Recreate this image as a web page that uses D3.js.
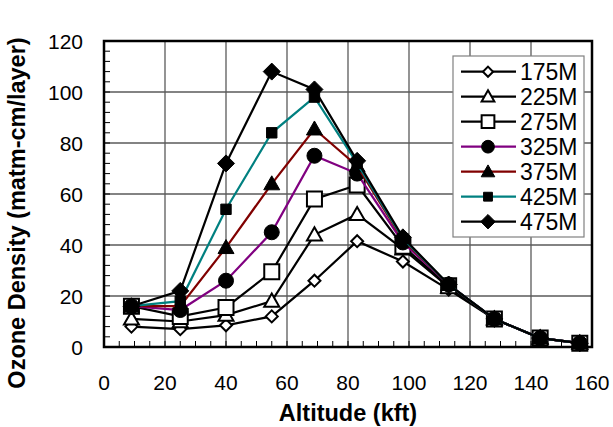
<!DOCTYPE html>
<html>
<head>
<meta charset="utf-8">
<script src="https://cdn.jsdelivr.net/npm/d3@7"></script>
<style>
  body { margin: 0; background: #fff; }
  text { font-family: "Liberation Sans", Arial, sans-serif; }
</style>
</head>
<body>
<div id="chart"></div>
<script>
// altitude (kft) of each layer
const altitude = [9, 25, 40, 55, 69, 83, 98, 113, 128, 143, 156];

const names = ["175M", "225M", "275M", "325M", "375M", "425M", "475M"];

const s175 = [8, 7, 8.5, 12, 26, 41.5, 33.5, 22.5, 11, 3.5, 1.5];
const s225 = [11, 10, 12.5, 18, 44, 52, 38.5, 23.5, 11, 3.5, 1.5];
const s275 = [16, 12, 15.5, 29.5, 58, 63.5, 39.5, 24, 11, 3.5, 1.5];
const s325 = [16, 14.5, 26, 45, 75, 68, 41, 24.5, 11, 3.5, 1.5];
const s375 = [16, 16, 39, 64, 85.5, 71, 42, 24.5, 11, 3.5, 1.5];
const s425 = [16, 18, 54, 84, 98, 72, 42.5, 24.5, 11, 3.5, 1.5];
const s475 = [16, 22, 72, 108, 101, 73, 43, 24.5, 11, 3.5, 1.5];

const xTicks = [0, 20, 40, 60, 80, 100, 120, 140, 160];
const yTicks = [0, 20, 40, 60, 80, 100, 120];

const seriesValues = [s175, s225, s275, s325, s375, s425, s475];
const colors = ["#000", "#000", "#000", "#800080", "#800000", "#008080", "#000"];
const shapes = ["diamond", "triangle", "square", "circle", "triangle", "square", "diamond"];
const filled = [false, false, false, true, true, true, true];
const sizes = [6, 7.5, 7.5, 7.5, 8, 5.2, 8.5];

const series = names.map((n, i) => ({
  name: n, color: colors[i], shape: shapes[i], filled: filled[i], r: sizes[i],
  points: altitude.map((a, j) => [a, seriesValues[i][j]])
}));

const W = 613, H = 427;
const margin = { top: 41, right: 21, bottom: 80, left: 104 };
const width = W - margin.left - margin.right;
const height = H - margin.top - margin.bottom;

const svg = d3.select("#chart").append("svg")
  .attr("width", W).attr("height", H);

svg.append("rect").attr("width", W).attr("height", H).attr("fill", "#fff");

const g = svg.append("g").attr("transform", `translate(${margin.left},${margin.top})`);

const x = d3.scaleLinear().domain([0, 160]).range([0, width]);
const y = d3.scaleLinear().domain([0, 120]).range([height, 0]);

// grid
g.selectAll(".vgrid").data(xTicks).join("line")
  .attr("x1", d => x(d)).attr("x2", d => x(d))
  .attr("y1", 0).attr("y2", height)
  .attr("stroke", "#5a5a5a").attr("stroke-width", 1.3);
g.selectAll(".hgrid").data(yTicks).join("line")
  .attr("x1", 0).attr("x2", width)
  .attr("y1", d => y(d)).attr("y2", d => y(d))
  .attr("stroke", "#5a5a5a").attr("stroke-width", 1.3);

// minor ticks inside
g.selectAll(".xminor").data(d3.range(0, 161, 5)).join("line")
  .attr("x1", d => x(d)).attr("x2", d => x(d))
  .attr("y1", height).attr("y2", height - 6)
  .attr("stroke", "#000").attr("stroke-width", 1);
g.selectAll(".yminor").data(d3.range(0, 121, 4)).join("line")
  .attr("x1", 0).attr("x2", 6)
  .attr("y1", d => y(d)).attr("y2", d => y(d))
  .attr("stroke", "#000").attr("stroke-width", 1);

// tick labels
g.selectAll(".xlab").data(xTicks).join("text")
  .attr("x", d => x(d)).attr("y", height + 43)
  .attr("text-anchor", "middle").style("font-size", "21px")
  .text(d => d);
g.selectAll(".ylab").data(yTicks).join("text")
  .attr("x", -21).attr("y", d => y(d) + 7.5)
  .attr("text-anchor", "end").style("font-size", "21px")
  .text(d => d);

function markerPath(shape, r) {
  const p = d3.path();
  if (shape === "diamond") {
    p.moveTo(0, -r); p.lineTo(r, 0); p.lineTo(0, r); p.lineTo(-r, 0); p.closePath();
  } else if (shape === "square") {
    p.rect(-r, -r, 2 * r, 2 * r);
  } else if (shape === "triangle") {
    p.moveTo(0, -r); p.lineTo(r, r * 0.75); p.lineTo(-r, r * 0.75); p.closePath();
  } else {
    p.arc(0, 0, r, 0, 2 * Math.PI);
  }
  return p.toString();
}

const line = d3.line().x(d => x(d[0])).y(d => y(d[1]));

const sg = g.selectAll(".series").data(series).join("g");
sg.append("path")
  .attr("d", d => line(d.points))
  .attr("fill", "none")
  .attr("stroke", d => d.color)
  .attr("stroke-width", 2.2);
sg.each(function (s) {
  d3.select(this).selectAll("path.m").data(s.points).join("path")
    .attr("class", "m")
    .attr("transform", d => `translate(${x(d[0])},${y(d[1])})`)
    .attr("d", markerPath(s.shape, s.r))
    .attr("fill", s.filled ? "#000" : "#fff")
    .attr("stroke", "#000")
    .attr("stroke-width", s.filled ? 1 : 2);
});

// plot border
g.append("rect").attr("width", width).attr("height", height)
  .attr("fill", "none").attr("stroke", "#000").attr("stroke-width", 2.5);

// legend
const lg = svg.append("g").attr("transform", "translate(453,56)");
lg.append("rect").attr("width", 131).attr("height", 181)
  .attr("fill", "#fff").attr("stroke", "#808080").attr("stroke-width", 1.2);
const items = lg.selectAll(".item").data(series).join("g")
  .attr("transform", (d, i) => `translate(0,${15.7 + i * 25})`);
items.append("line").attr("x1", 8).attr("x2", 63)
  .attr("stroke", d => d.color).attr("stroke-width", 2.2);
items.append("path")
  .attr("transform", "translate(35,0)")
  .attr("d", d => markerPath(d.shape, d.r * 0.85))
  .attr("fill", d => d.filled ? "#000" : "#fff")
  .attr("stroke", "#000").attr("stroke-width", d => d.filled ? 1 : 2);
items.append("text").attr("x", 67).attr("y", 8)
  .style("font-size", "23px").text(d => d.name);

// axis titles
svg.append("text")
  .attr("x", margin.left + width / 2).attr("y", 421)
  .attr("text-anchor", "middle")
  .style("font-size", "23.5px").style("font-weight", "bold")
  .text("Altitude (kft)");
svg.append("text")
  .attr("transform", "translate(25,213) rotate(-90)")
  .attr("text-anchor", "middle")
  .style("font-size", "23.5px").style("font-weight", "bold")
  .text("Ozone Density (matm-cm/layer)");
</script>
</body>
</html>
